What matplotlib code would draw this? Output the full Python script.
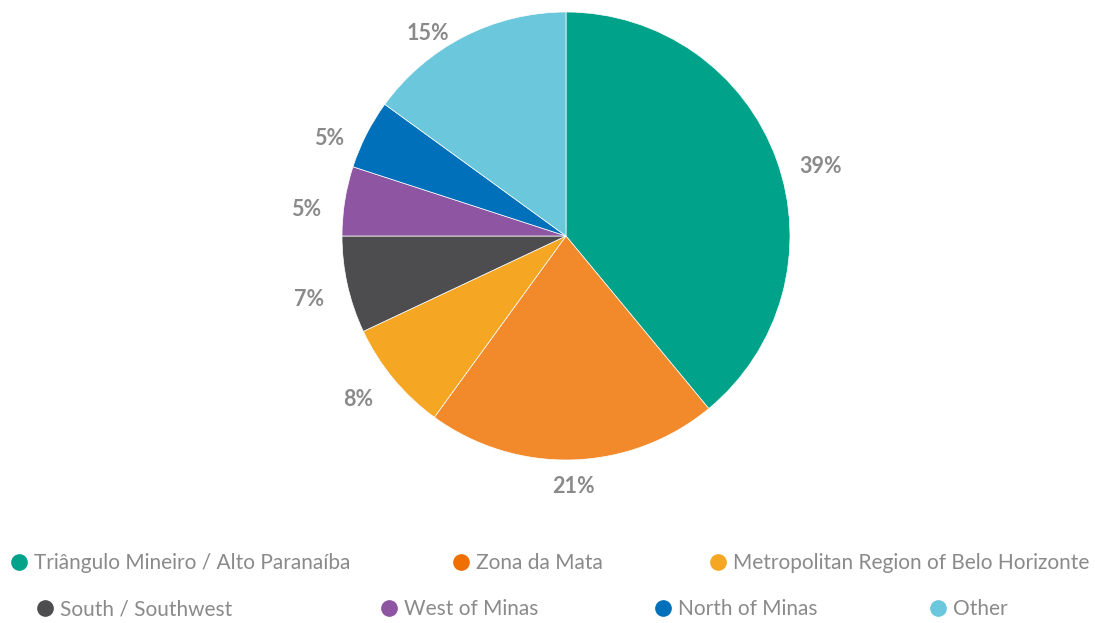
import numpy as np
import matplotlib.pyplot as plt

plt.rcParams['font.family'] = ['Lato', 'DejaVu Sans']

regions = ["Triângulo Mineiro / Alto Paranaíba", "Zona da Mata",
           "Metropolitan Region of Belo Horizonte", "South / Southwest",
           "West of Minas", "North of Minas", "Other"]
shares = [39, 21, 8, 7, 5, 5, 15]
slice_colors = ["#00A28A", "#F28A2B", "#F5A623", "#4D4D4F", "#8E55A2", "#0070BA", "#6BC7DB"]
marker_colors = ["#00A28A", "#EF7000", "#F5A623", "#4D4D4F", "#8E55A2", "#0070BA", "#6BC7DB"]

W, H = 1095, 623
fig = plt.figure(figsize=(W / 100, H / 100), dpi=100)

# pie centre (566, 236) px, radius 224 px
cx, cy, r = 566, 236, 224
ax = fig.add_axes([(cx - r) / W, (H - cy - r) / H, 2 * r / W, 2 * r / H])

wedges, _ = ax.pie(shares, colors=slice_colors, startangle=90, counterclock=False,
                   wedgeprops=dict(edgecolor="white", linewidth=0.5))

# percentage labels just outside each wedge, sitting slightly below the mid-angle ray
for w, v in zip(wedges, shares):
    ang = np.deg2rad((w.theta1 + w.theta2) / 2)
    c, s = np.cos(ang), np.sin(ang)
    if abs(c) < 0.1:
        ha, x = "center", 1.07 * c
    else:
        ha = "left" if c > 0 else "right"
        x = 1.07 * c + np.sign(c) * 0.035
    y = 1.07 * s - 0.05
    ax.text(x, y, f"{v}%", ha=ha, va="center", color="#8A8A8A",
            fontsize=15.5, fontweight="bold")

ax.set_xlim(-1, 1)
ax.set_ylim(-1, 1)
ax.set_aspect("equal")
ax.axis("off")

# legend: two rows laid out by hand
rows = [[0, 1, 2], [3, 4, 5, 6]]
row_x = [[19, 461, 718], [45, 389, 663, 938]]
row_y = [562, 608]
for idx, xs, y in zip(rows, row_x, row_y):
    for i, x in zip(idx, xs):
        fig.lines.append(plt.Line2D([x / W], [1 - y / H], marker="o", markersize=11,
                                    color=marker_colors[i], linestyle="none",
                                    transform=fig.transFigure))
        fig.text((x + 15) / W, 1 - (y + 1) / H, regions[i], color="#8A8A8A", fontsize=15,
                 ha="left", va="center")

fig.savefig("out.png", dpi=100)
